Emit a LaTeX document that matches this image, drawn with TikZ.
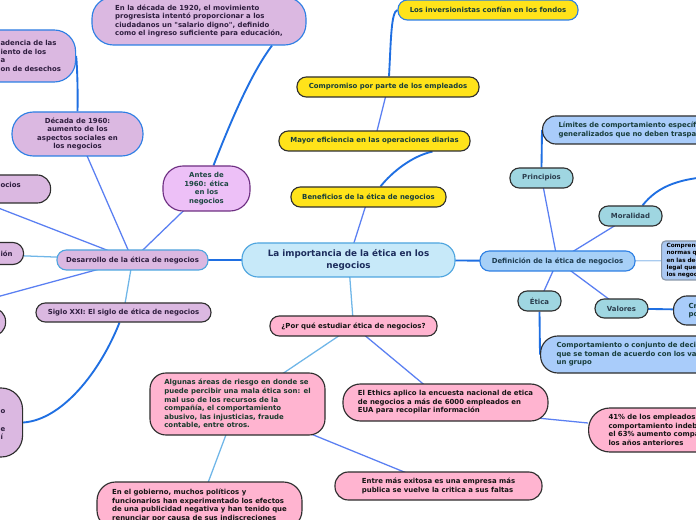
\documentclass[tikz,border=0pt]{standalone}
\usepackage{fontspec}
\newfontfamily\vfont{DejaVu Sans}
\usetikzlibrary{backgrounds}
\definecolor{cYel}{HTML}{FFE31A}
\definecolor{cCen}{HTML}{C7E9F9}
\definecolor{cLav}{HTML}{DBB8E1}
\definecolor{cAnt}{HTML}{EDC0F7}
\definecolor{cDef}{HTML}{A7D0F7}
\definecolor{cTeal}{HTML}{9FD6E1}
\definecolor{cLim}{HTML}{A9CCFA}
\definecolor{cCmp}{HTML}{AAC8F2}
\definecolor{cPink}{HTML}{FFB4D0}
\definecolor{cDark}{HTML}{2E2E2E}
\definecolor{cBlue}{HTML}{2D7FE4}
\definecolor{cLB}{HTML}{4EA5DF}
\definecolor{cPur}{HTML}{6E2F82}
\definecolor{cGrey}{HTML}{8A97A8}
\definecolor{cYT}{HTML}{173D3A}
\definecolor{cCT}{HTML}{1C2C5C}
\definecolor{cLT}{HTML}{2E1D3E}
\definecolor{cAT}{HTML}{1D4742}
\definecolor{cBT}{HTML}{1D3B4F}
\definecolor{cTT}{HTML}{2B3D4D}
\definecolor{cPT}{HTML}{141414}
\definecolor{cAlgT}{HTML}{193A2C}
\definecolor{lStr}{HTML}{1F6FE2}
\definecolor{lMed}{HTML}{5A7FF2}
\definecolor{lLig}{HTML}{6FB6E8}
\definecolor{lLig2}{HTML}{A9CBEF}
\newcommand\smf{\vfont\bfseries\fontsize{5.2pt}{6.4pt}\selectfont}
\newcommand\bgf{\vfont\bfseries\fontsize{6.6pt}{8.8pt}\selectfont}
\newcommand\tnf{\vfont\bfseries\fontsize{4.3pt}{5.5pt}\selectfont}
\tikzset{
  sBox/.style={draw, line width=0.85pt, inner sep=0pt, font=\smf, align=center},
  sOne/.style={sBox, minimum height=15pt, rounded corners=7pt},
  sYel/.style={fill=cYel, draw=cDark, text=cYT},
  sLav/.style={fill=cLav, text=cLT},
  sTeal/.style={fill=cTeal, draw=cDark, text=cTT},
  sPink/.style={fill=cPink, draw=cDark, text=cPT},
  lnS/.style={draw=lStr, line width=1.4pt},
  lnM/.style={draw=lMed, line width=0.95pt},
  lnL/.style={draw=lLig, line width=0.95pt},
  lnL2/.style={draw=lLig2, line width=0.95pt}
}
\begin{document}
\begin{tikzpicture}[x=0.75pt,y=-0.75pt]
\useasboundingbox (0,0) rectangle (696,520);
\clip (0,0) rectangle (696,520);
% centre
\node[sBox, fill=cCen, draw=cLB, text=cCT, font=\bgf, minimum width=159.75pt, minimum height=25.5pt, rounded corners=12pt] (cen) at (348.5,260) {La importancia de la ética en los\\negocios};
% yellow branch
\node[sOne, sYel, minimum width=116.25pt] (ben) at (368.5,197) {Beneficios de la ética de negocios};
\node[sOne, sYel, minimum width=143.25pt] (may) at (374.5,141) {Mayor eficiencia en las operaciones diarias};
\node[sOne, sYel, minimum width=136.5pt] (comp) at (388,87) {Compromiso por parte de los empleados};
\node[sOne, sYel, draw=cBlue, minimum width=135pt] (inv) at (488,10) {Los inversionistas confían en los fondos};
% left branch
\node[sOne, sLav, draw=cLB, minimum width=113.25pt] (des) at (132.5,260) {Desarrollo de la ética de negocios};
\node[sBox, fill=cAnt, draw=cPur, text=cAT, minimum width=65.25pt, minimum height=33.75pt, rounded corners=15pt] (antes) at (206.5,188.5) {Antes de\\1960: ética\\en los\\negocios};
\node[sBox, sLav, draw=cBlue, minimum width=98.25pt, minimum height=33pt, rounded corners=16pt] (dec) at (77.5,134) {Década de 1960:\\aumento de los\\aspectos sociales en\\los negocios};
\node[sBox, sLav, draw=cBlue, align=left, minimum width=160.5pt, minimum height=36pt, rounded corners=16pt] (n1920) at (199,21) {En la década de 1920, el movimiento\\progresista intentó proporcionar a los\\ciudadanos un "salario digno", definido\\como el ingreso suficiente para educación,};
\node[sBox, sLav, draw=cBlue, anchor=west, align=left, text width=108.75pt, inner xsep=3.75pt, minimum height=39pt, rounded corners=16pt] (tl) at (-80,56) {\hspace*{56.25pt}adencia de las\\\hspace*{56.25pt}iento de los\\\hspace*{56.25pt}a\\\hspace*{56.25pt}on de desechos};
\node[sBox, sLav, draw=cDark, anchor=west, align=left, text width=105pt, inner xsep=3.75pt, minimum height=21pt, rounded corners=10pt] (ocios) at (-100,189) {\hspace*{71.25pt}ocios\\\mbox{}};
\node[sBox, sLav, draw=cDark, anchor=west, align=left, text width=84.75pt, inner xsep=3.75pt, minimum height=16.5pt, rounded corners=8pt] (ion) at (-100,253.5) {\hspace*{71.25pt}ión};
\node[sBox, sLav, draw=cDark, anchor=west, minimum width=93.75pt, minimum height=21pt, rounded corners=10pt] (ll2) at (-120,322) {};
\node[sOne, sLav, draw=cDark, minimum width=131.25pt, minimum height=14.25pt] (sig) at (123.5,312.5) {Siglo XXI: El siglo de ética de negocios};
\node[sBox, sLav, draw=cDark, anchor=west, align=left, text width=99pt, inner xsep=3.75pt, minimum height=51.75pt, rounded corners=16pt] (ll) at (-120,422.5) {\mbox{}\\\hspace*{86.25pt}o\\\mbox{}\\\hspace*{86.25pt}e\\\hspace*{86.25pt}í};
% right branch
\node[sOne, fill=cDef, draw=cBlue, text=cBT, minimum width=116.25pt] (def) at (557.5,261) {Definición de la ética de negocios};
\node[sOne, sTeal, minimum width=47.25pt] (prin) at (541.5,178) {Principios};
\node[sOne, sTeal, minimum width=47.25pt] (mor) at (630.5,216) {Moralidad};
\node[sOne, sTeal, minimum width=32.25pt] (etica) at (539.5,301) {Ética};
\node[sOne, sTeal, minimum width=39.75pt, minimum height=14.25pt] (val) at (621.5,308.5) {Valores};
\node[sBox, fill=cLim, draw=cDark, text=cYT, anchor=west, align=left, text width=172.5pt, inner xsep=12pt, minimum height=21pt, rounded corners=10pt] (lim) at (542,130) {Límites de comportamiento específicos y\\generalizados que no deben traspasarse};
\node[sBox, fill=cCmp, draw=cGrey, text=black, font=\tnf, anchor=west, align=left, text width=90pt, inner xsep=3.75pt, minimum height=29.25pt, rounded corners=3pt] (cmpr) at (661,260.5) {Comprende los valores y\\normas que se aplican\\en las decisiones\\legal que rigen a\\los negocios};
\node[sBox, fill=cLim, draw=cDark, text=cYT, anchor=west, align=left, text width=190pt, inner xsep=12pt, minimum height=27.75pt, rounded corners=13pt] (comp2) at (540,354.5) {Comportamiento o conjunto de decisiones\\que se toman de acuerdo con los valores de\\un grupo};
\node[sBox, fill=cLim, draw=cDark, text=cYT, anchor=west, align=left, text width=80pt, inner xsep=11.25pt, minimum height=21.75pt, rounded corners=10pt] (cr) at (673,310.5) {Creencias sostenidas\\por una persona};
% bottom branch
\node[sOne, sPink, minimum width=125.25pt] (por) at (353.5,326) {¿Por qué estudiar ética de negocios?};
\node[sBox, sPink, text=cAlgT, align=left, minimum width=131.25pt, minimum height=46.5pt, rounded corners=12pt] (alg) at (237.5,404) {Algunas áreas de riesgo en donde se\\puede percibir una mala ética son: el\\mal uso de los recursos de la\\compañía, el comportamiento\\abusivo, las injusticias, fraude\\contable, entre otros.};
\node[sBox, sPink, align=left, minimum width=153.75pt, minimum height=35.25pt, rounded corners=14pt] (gob) at (199.5,505.5) {En el gobierno, muchos políticos y\\funcionarios han experimentado los efectos\\de una publicidad negativa y han tenido que\\renunciar por causa de sus indiscreciones};
\node[sBox, sPink, align=left, minimum width=153.75pt, minimum height=27.75pt, rounded corners=13pt] (eth) at (445.5,402.5) {El Ethics aplico la encuesta nacional de etica\\de negocios a más de 6000 empleados en\\EUA para recopilar información};
\node[sBox, sPink, align=left, minimum width=155.25pt, minimum height=21pt, rounded corners=10pt] (ent) at (438.5,486) {Entre más exitosa es una empresa más\\publica se vuelve la critica a sus faltas};
\node[sBox, sPink, anchor=west, align=left, text width=150pt, inner xsep=15pt, minimum height=33pt, rounded corners=16pt] (p41) at (588,430) {41\% de los empleados observó un\\comportamiento indebido en el trabajo,\\el 63\% aumento comparado con\\los años anteriores};
% connectors
\begin{pgfonlayer}{background}
\fill[white] (0,0) rectangle (696,520);
\coordinate (cOcios) at (-30,197);
\coordinate (cLow) at (-40,307);
\coordinate (cMor) at (725,176);
\draw[lnM] (cen.center) -- (ben.center);
\draw[lnS] ([xshift=9pt]ben.north) .. controls (392,172) and (412,156) .. ([xshift=43.5pt]may.south);
\draw[lnM] (may.center) -- (comp.center);
\draw[lnS] ([xshift=0.75pt]comp.north) .. controls (391,40) and (391,12) .. (inv.west);
\draw[lnS] (cen.center) -- (des.center);
\draw[lnM] (des.center) -- (antes.center);
\draw[lnS] ([xshift=5.25pt]antes.north) .. controls (232,118) and (252,72) .. ([xshift=54.75pt]n1920.south);
\draw[lnM] (des.center) -- (dec.center);
\draw[lnS] (dec.north) .. controls (78,88) and (77,64) .. (tl.east);
\draw[lnM] (des.center) -- (cOcios);
\draw[lnL] (des.center) -- (ion.center);
\draw[lnM] (des.center) -- (cLow);
\draw[lnL] (des.center) -- (sig.center);
\draw[lnS] ([xshift=-3pt]sig.south) .. controls (100,372) and (62,420) .. (ll.east);
\draw[lnL] (cen.center) -- (por.center);
\draw[lnL] (por.center) -- (alg.center);
\draw[lnL] (alg.center) -- (gob.center);
\draw[lnM] (por.center) -- (eth.center);
\draw[lnM] (alg.center) -- (ent.center);
\draw[lnM] ([xshift=-15pt,yshift=-11pt]eth.east) -- ([yshift=5.25pt]p41.west);
\draw[lnS] (cen.center) -- (def.center);
\draw[lnM] (def.center) -- (prin.center);
\draw[lnS] (prin.north) -- (lim.west);
\draw[lnM] (def.center) -- (mor.center);
\draw[lnS] ([xshift=9pt]mor.north) .. controls (658,186) and (680,177) .. (cMor);
\draw[lnL2] (def.center) -- (cmpr.center);
\draw[lnM] (def.center) -- (etica.center);
\draw[lnS] (etica.south) -- (comp2.west);
\draw[lnM] (def.center) -- (val.center);
\draw[lnS] (val.center) -- (cr.center);
\end{pgfonlayer}
\end{tikzpicture}
\end{document}
